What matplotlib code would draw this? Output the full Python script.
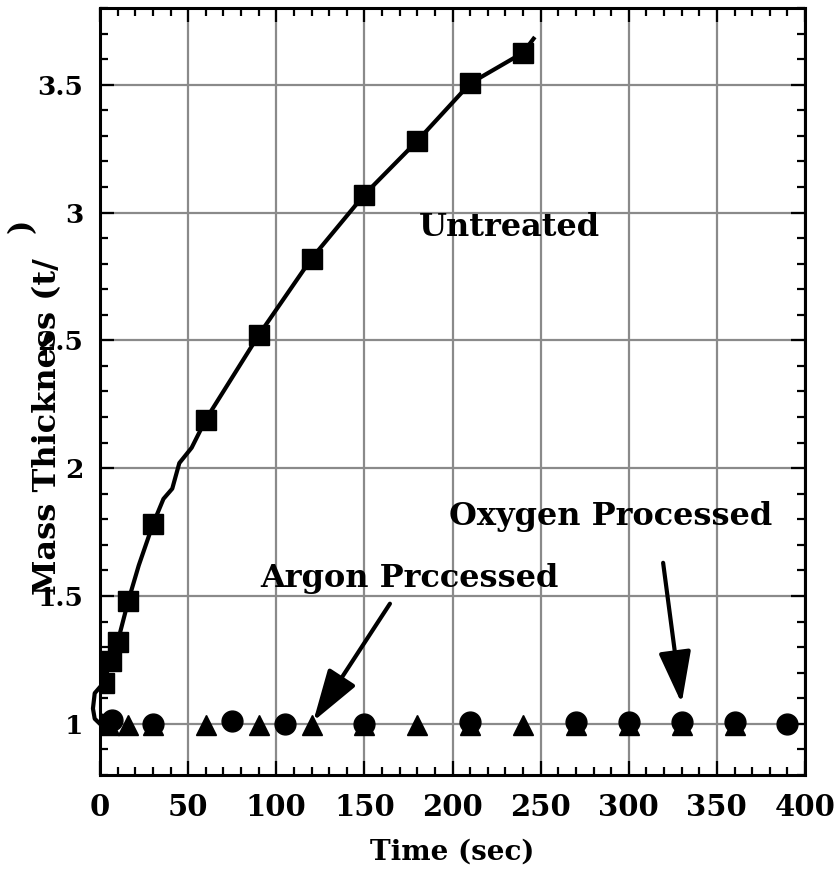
import matplotlib
matplotlib.use('Agg')
import matplotlib.pyplot as plt
from matplotlib.ticker import MultipleLocator

# Untreated (squares)
untreated_t = [2, 6, 10, 16, 30, 60, 90, 120, 150, 180, 210, 240]
untreated_y = [1.16, 1.245, 1.32, 1.48, 1.78, 2.19, 2.52, 2.82, 3.07, 3.28, 3.505, 3.625]

curve_t = [0, -3, -4, -3, 2, 6, 10, 13, 16, 22, 30, 36, 41, 45, 52, 60, 90, 120, 150, 180, 210, 240, 246]
curve_y = [1.0, 1.02, 1.06, 1.12, 1.16, 1.245, 1.32, 1.40, 1.48, 1.62, 1.78, 1.88, 1.92, 2.02, 2.08, 2.19,
           2.52, 2.82, 3.07, 3.28, 3.505, 3.625, 3.68]

# Oxygen processed (circles)
oxygen_t = [0, 7, 30, 75, 105, 150, 210, 270, 300, 330, 360, 390]
oxygen_y = [1.0, 1.015, 1.0, 1.012, 1.0, 1.0, 1.006, 1.006, 1.006, 1.006, 1.006, 1.0]

# Argon processed (triangles)
argon_t = [5, 16, 30, 60, 90, 120, 150, 180, 210, 240, 270, 300, 330, 360]
argon_y = [0.995, 0.995, 0.995, 0.995, 0.995, 0.995, 0.995, 0.995, 0.995, 0.995, 0.995, 0.995, 0.995, 0.995]

font = 'DejaVu Serif'

fig = plt.figure(figsize=(8.39, 8.75), dpi=100)
ax = fig.add_axes([100/839, 1 - 775/875, 705/839, 767/875])

ax.set_xlim(0, 400)
ax.set_ylim(0.8, 3.8)

ax.grid(True, which='major', color='#8a8a8a', linewidth=1.6, zorder=0)
ax.set_axisbelow(True)

ax.plot(curve_t, curve_y, color='black', linewidth=3, zorder=3, clip_on=False)
ax.plot(untreated_t, untreated_y, 's', color='black', markersize=14, zorder=4)
ax.plot(argon_t, argon_y, '^', color='black', markersize=14, zorder=4)
ax.plot(oxygen_t, oxygen_y, 'o', color='black', markersize=15, zorder=5)

ax.xaxis.set_major_locator(MultipleLocator(50))
ax.xaxis.set_minor_locator(MultipleLocator(10))
ax.yaxis.set_major_locator(MultipleLocator(0.5))
ax.yaxis.set_minor_locator(MultipleLocator(0.1))
ax.yaxis.set_major_formatter(plt.FuncFormatter(lambda v, p: '%g' % v))

ax.tick_params(which='both', direction='in', top=True, right=True, width=1.6, color='black')
ax.tick_params(which='major', length=10)
ax.tick_params(which='minor', length=5.5)
ax.tick_params(axis='x', which='major', pad=13, labelsize=21)
ax.tick_params(axis='y', which='major', pad=12, labelsize=19)
for lab in ax.get_xticklabels() + ax.get_yticklabels():
    lab.set_family(font)
    lab.set_fontweight('bold')
for sp in ax.spines.values():
    sp.set_linewidth(2.2)

ax.set_xlabel('Time (sec)', fontsize=20, fontweight='bold', family=font, labelpad=12)

# y label broken into two pieces like the original
fig.text(48/839, 1 - 595/875, 'Mass Thickness (t/', rotation=90, ha='center', va='bottom',
         fontsize=23, fontweight='bold', family=font)
fig.text(22/839, 1 - 226/875, ')', rotation=90, ha='center', va='center',
         fontsize=22, fontweight='bold', family=font)

ax.text(181, 2.94, 'Untreated', fontsize=23, fontweight='bold', family=font, va='center', zorder=6)
ax.text(91, 1.57, 'Argon Prccessed', fontsize=23, fontweight='bold', family=font, va='center', zorder=6)
ax.text(198, 1.81, 'Oxygen Processed', fontsize=23, fontweight='bold', family=font, va='center', zorder=6)

arrow = dict(arrowstyle='-|>,head_length=1.6,head_width=0.5', mutation_scale=20,
             color='black', linewidth=3, shrinkA=0, shrinkB=0)
ax.annotate('', xy=(121, 1.01), xytext=(164.5, 1.47), arrowprops=arrow, zorder=6)
ax.annotate('', xy=(330, 1.08), xytext=(319.5, 1.63), arrowprops=arrow, zorder=6)

fig.savefig('out.png', dpi=100)
